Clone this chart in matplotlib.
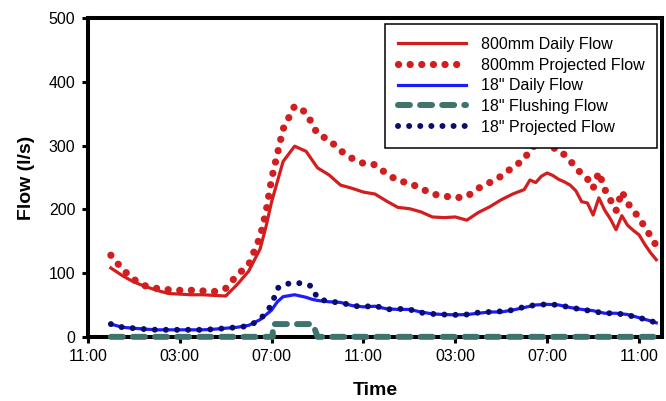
import matplotlib
matplotlib.use("Agg")
import matplotlib.pyplot as plt

plt.rcParams['font.family'] = ['Liberation Sans', 'DejaVu Sans']

# DATA (hours after 11:00)

t_800 = [1.0, 1.5, 2.0, 2.5, 3.0, 3.5, 4.0, 4.5, 5.0, 5.5, 6.0, 6.5, 7.0, 7.5, 7.75,
         8.0, 8.5, 9.0, 9.5, 10.0, 10.5, 11.0, 11.5, 12.0, 12.5, 13.0, 13.5, 14.0,
         14.5, 15.0, 15.5, 16.0, 16.5, 17.0, 17.5, 18.0, 18.5, 19.0, 19.25, 19.5,
         19.75, 20.0, 20.25, 20.5, 20.75, 21.0, 21.25, 21.5, 21.75, 22.0, 22.25,
         22.5, 22.75, 23.0, 23.25, 23.5, 23.75, 24.0, 24.25, 24.5, 24.75]
daily_800 = [108, 96, 86, 79, 73, 68, 67, 66, 66, 65, 64, 82, 103, 138, 172,
             212, 275, 299, 291, 265, 254, 238, 233, 227, 224, 213, 203, 201,
             196, 188, 187, 188, 183, 195, 204, 215, 224, 231, 246, 242,
             252, 257, 253, 247, 243, 238, 229, 212, 210, 191, 218,
             199, 185, 168, 190, 175, 167, 160, 145, 132, 121]
proj_800 = [128, 106, 90, 80, 76, 74, 73, 73, 72, 71, 76, 97, 113, 157, 195,
            248, 326, 362, 352, 318, 309, 292, 280, 272, 270, 256, 245, 241,
            233, 224, 221, 218, 220, 233, 242, 252, 266, 278, 294, 301,
            305, 304, 298, 289, 286, 276, 266, 255, 248, 233, 258,
            232, 215, 198, 228, 210, 198, 187, 172, 158, 143]

t_18 = [1.0, 1.5, 2.0, 2.5, 3.0, 3.5, 4.0, 4.5, 5.0, 5.5, 6.0, 6.5, 7.0, 7.5,
        8.0, 8.25, 8.5, 9.0, 9.5, 9.75, 10.0, 10.5, 11.0, 11.5, 12.0, 12.5, 13.0,
        13.5, 14.0, 14.5, 15.0, 15.5, 16.0, 16.5, 17.0, 17.5, 18.0, 18.5, 19.0,
        19.5, 20.0, 20.5, 21.0, 21.5, 22.0, 22.5, 23.0, 23.5, 24.0, 24.5, 24.75]
daily_18 = [20, 15, 13.5, 12, 11, 11, 11, 11, 11, 12, 13.5, 15, 18, 27,
            42, 55, 63, 66, 62, 59, 57, 55, 54, 49, 47, 48, 44,
            43, 43, 39, 36, 35, 34.5, 35, 37, 39, 39, 42, 46,
            50, 51, 50, 46, 43, 41, 37, 37, 35, 30, 25, 22]
proj_18 = [20, 15, 13.5, 12, 11, 11, 11, 11, 11, 12, 13.5, 15, 17, 27,
           50, 76, 82, 85, 83, 79, 60, 55, 54, 49, 47, 49, 43,
           44, 43, 38, 36, 35, 34.5, 35, 38, 39, 40, 42, 47,
           50, 51, 50, 46, 43, 40, 37, 37, 34, 30, 25, 22]

t_flush = [1.0, 8.05, 8.05, 9.8, 10.0, 24.75]
flush_18 = [0, 0, 20, 20, 0, 0]

tick_hours = [0, 4, 8, 12, 16, 20, 24]
tick_labels = ["11:00", "03:00", "07:00", "11:00", "03:00", "07:00", "11:00"]

# PLOT

fig = plt.figure(figsize=(6.66, 4.01), dpi=100)
ax = fig.add_axes([0.132, 0.160, 0.862, 0.795])

red = "#d21e1e"
ax.plot(t_800, daily_800, color=red, lw=2.3, label="800mm Daily Flow", zorder=2)
ax.plot(t_800, proj_800, color=red, lw=5.2, ls=(0, (0.01, 1.6)),
        dash_capstyle="round", label="800mm Projected Flow", zorder=2)
ax.plot(t_18, daily_18, color="#1c1cff", lw=2.3, label='18" Daily Flow', zorder=2)
ax.plot(t_flush, flush_18, color="#3e736e", lw=4.3, ls=(0, (2.0, 1.7)),
        dash_capstyle="round", label='18" Flushing Flow', zorder=3, clip_on=False)
ax.plot(t_18, proj_18, color="#0c0c6a", lw=4.3, ls=(0, (0.01, 1.85)),
        dash_capstyle="round", label='18" Projected Flow', zorder=3)

ax.set_xlim(0, 25)
ax.set_ylim(0, 500)
ax.set_xticks(tick_hours)
ax.set_xticklabels(tick_labels)
ax.set_yticks(range(0, 501, 100))

for s in ax.spines.values():
    s.set_linewidth(2.9)
ax.tick_params(direction="out", length=4, width=2.2, labelsize=11.5, pad=5)

ax.set_xlabel("Time", fontsize=14, fontweight="bold", labelpad=13)
ax.set_ylabel("Flow (l/s)", fontsize=14, fontweight="bold", labelpad=10)

leg = ax.legend(loc="upper right", bbox_to_anchor=(657 / 666, 1 - 24 / 401),
                bbox_transform=fig.transFigure, borderaxespad=0, fontsize=11.5,
                handlelength=4.3, handletextpad=0.9, labelspacing=0.36,
                borderpad=0.8, fancybox=False, framealpha=1)
leg.get_frame().set_edgecolor("black")
leg.get_frame().set_linewidth(1.1)

fig.savefig("out.png", dpi=100)
